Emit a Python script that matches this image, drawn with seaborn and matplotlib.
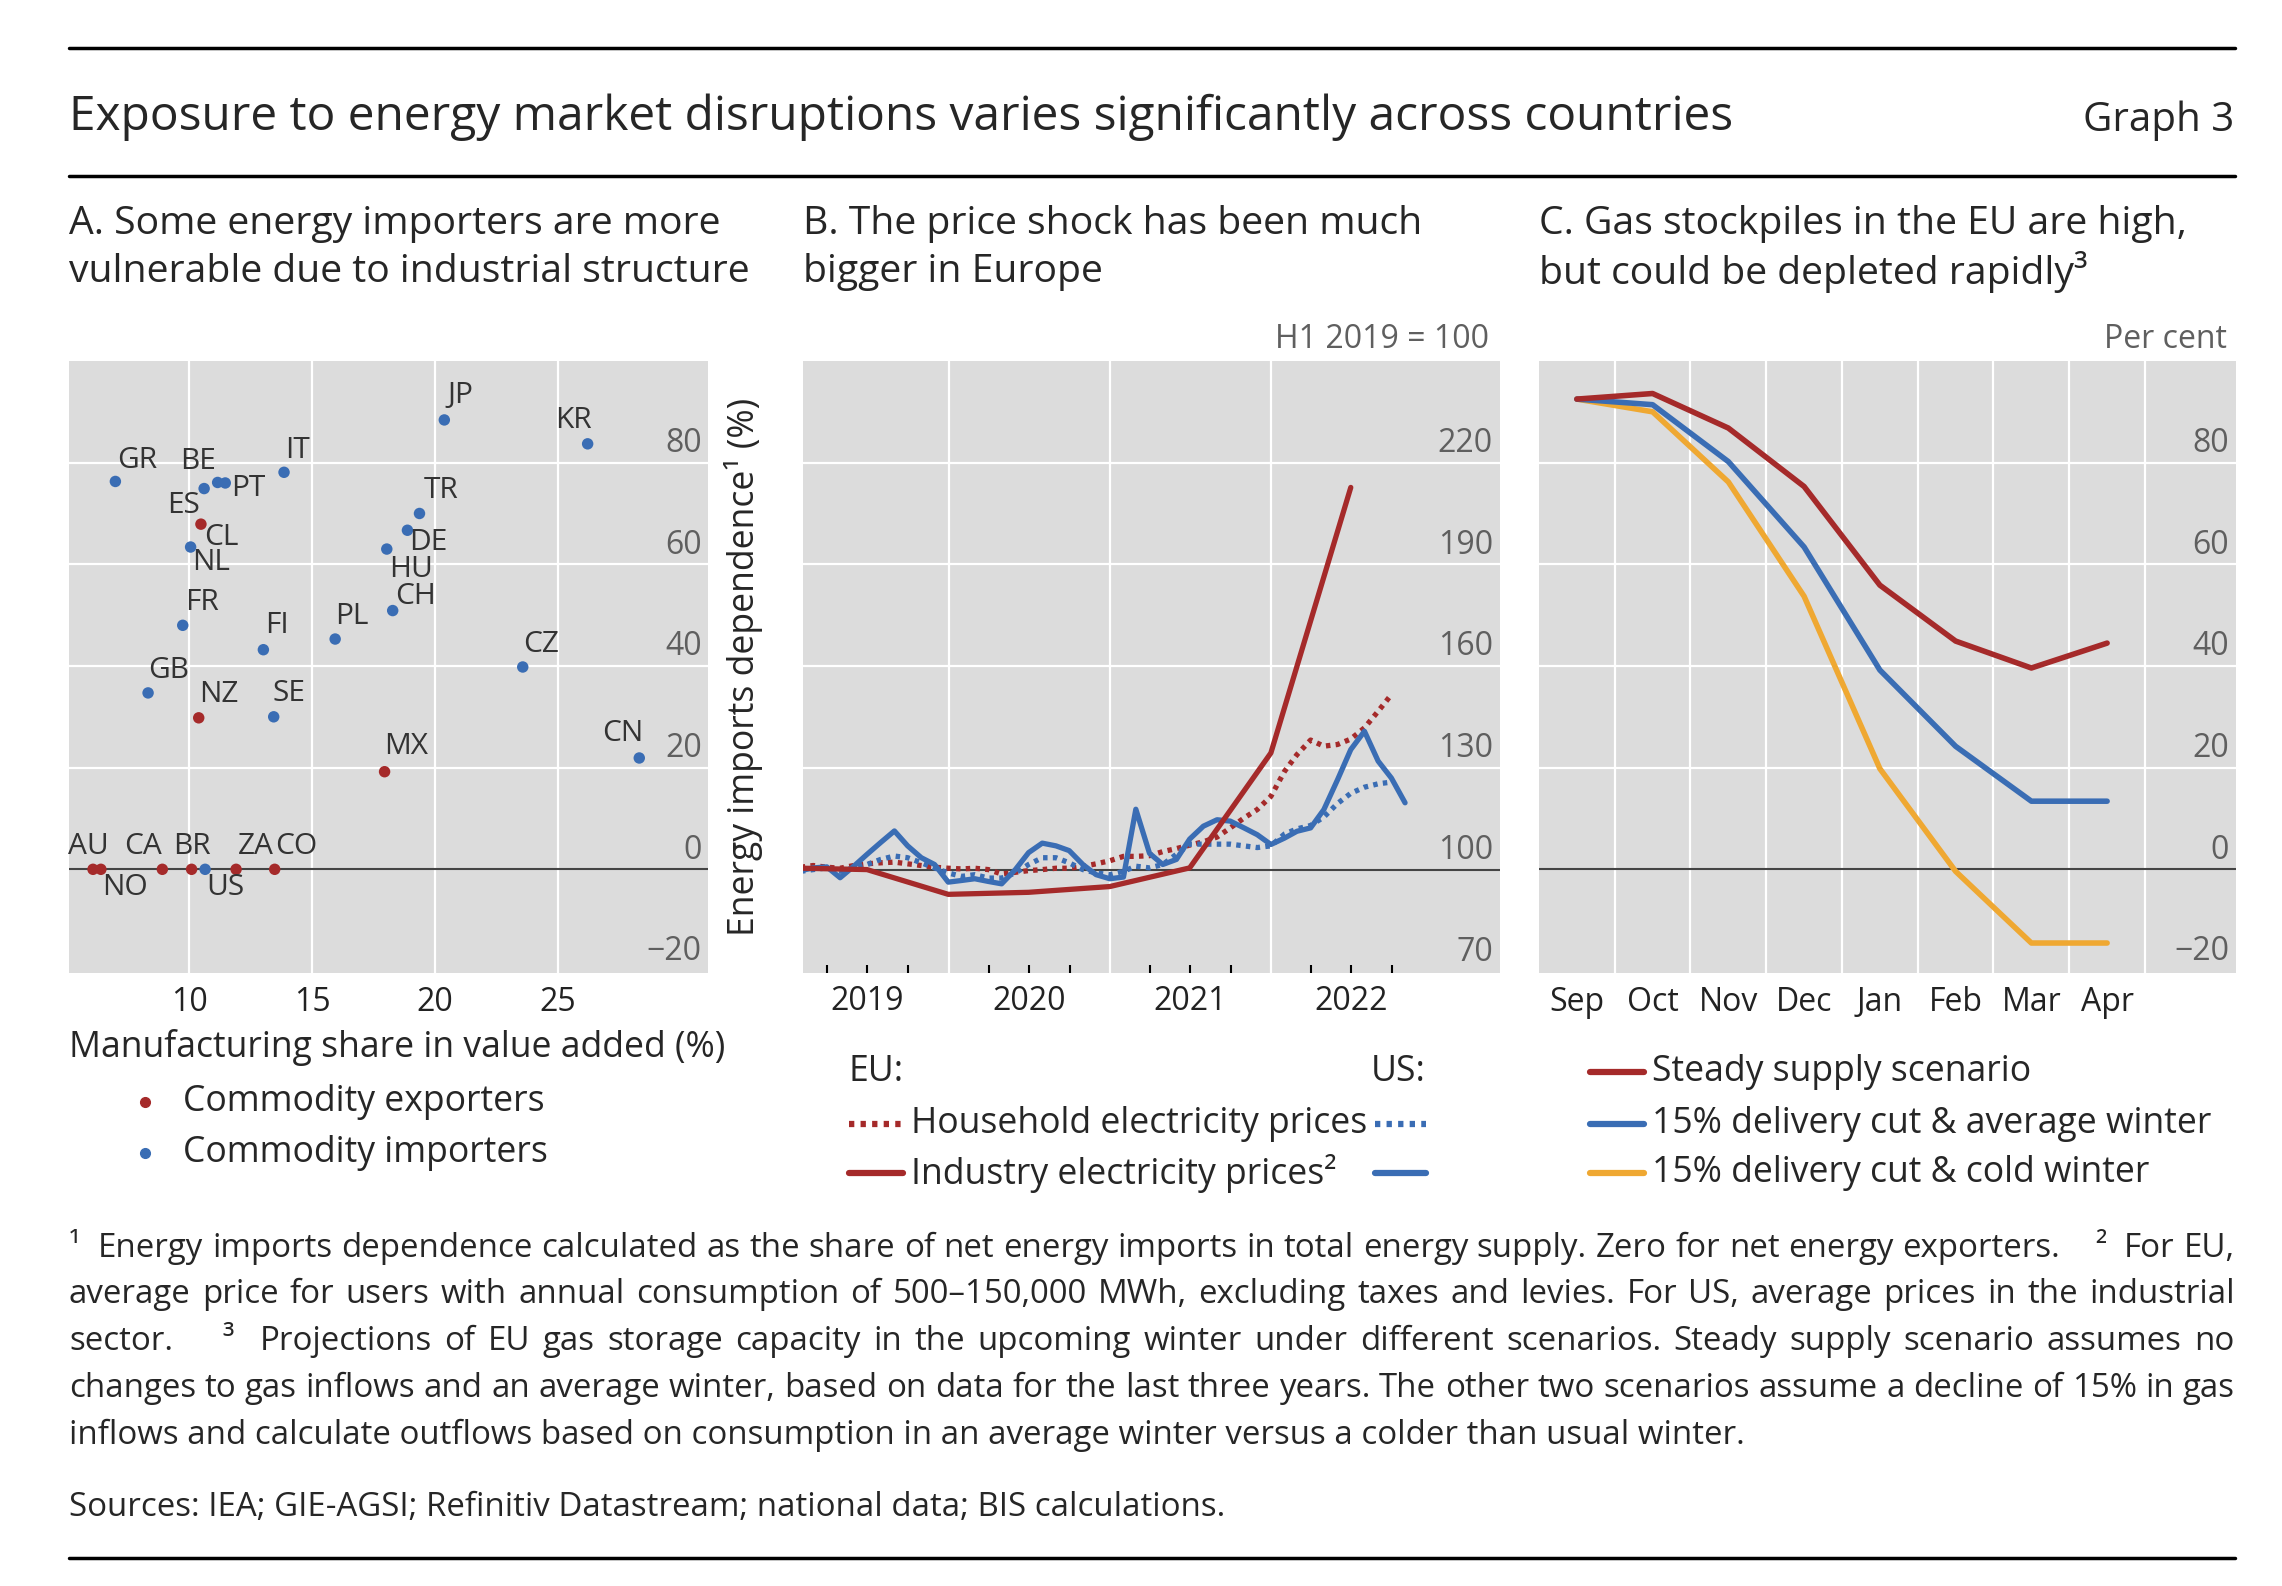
import matplotlib
matplotlib.use('Agg')
import matplotlib.pyplot as plt
from matplotlib.lines import Line2D
import numpy as np
import pandas as pd
import seaborn as sns

# ---- Panel A: manufacturing share vs energy import dependence
countries = ['GR', 'ES', 'BE', 'PT', 'IT', 'JP', 'KR', 'CL', 'NL', 'TR', 'DE', 'HU', 'CH', 'FR', 'PL',
             'FI', 'CZ', 'GB', 'NZ', 'SE', 'CN', 'MX', 'AU', 'NO', 'CA', 'BR', 'US', 'ZA', 'CO']
manuf_share = [6.99, 10.6, 11.15, 11.46, 13.85, 20.37, 26.2, 10.47, 10.05, 19.36, 18.87, 18.03, 18.27, 9.73, 15.93,
               13.01, 23.56, 8.32, 10.38, 13.43, 28.3, 17.94, 6.08, 6.4, 8.9, 10.09, 10.64, 11.9, 13.47]
import_dep = [76.3, 74.9, 76.1, 76.0, 78.1, 88.4, 83.7, 67.9, 63.4, 70.0, 66.7, 63.0, 50.9, 48.0, 45.3,
              43.2, 39.8, 34.7, 29.8, 30.0, 21.9, 19.2, 0, 0, 0, 0, 0, 0, 0]
exporters = ['CL', 'NZ', 'MX', 'AU', 'NO', 'CA', 'BR', 'ZA', 'CO']

# label offsets (points) and alignment
lab_pos = {
    'GR': (1, 5, 'left', 'bottom'), 'ES': (-3, -2, 'right', 'top'), 'BE': (-1, 5, 'right', 'bottom'),
    'PT': (4, -4, 'left', 'center'), 'IT': (1, 5, 'left', 'bottom'), 'JP': (2, 7, 'left', 'bottom'),
    'KR': (3, 6, 'right', 'bottom'), 'CL': (2, 1, 'left', 'top'), 'NL': (1, -1, 'left', 'top'),
    'TR': (3, 6, 'left', 'bottom'), 'DE': (1, 1.5, 'left', 'top'), 'HU': (2, -4, 'left', 'top'),
    'CH': (2, -0.5, 'left', 'bottom'), 'FR': (2, 6, 'left', 'bottom'), 'PL': (0, 6, 'left', 'bottom'),
    'FI': (1, 7, 'left', 'bottom'), 'CZ': (0, 6, 'left', 'bottom'), 'GB': (0, 6, 'left', 'bottom'),
    'NZ': (0, 6, 'left', 'bottom'), 'SE': (-1, 6, 'left', 'bottom'), 'CN': (3, 7, 'right', 'bottom'),
    'MX': (0, 8, 'left', 'bottom'), 'AU': (-3, 6, 'center', 'bottom'), 'NO': (1, -3, 'left', 'top'),
    'CA': (0, 6, 'right', 'bottom'), 'BR': (0, 6, 'center', 'bottom'), 'US': (1, -3, 'left', 'top'),
    'ZA': (1, 6, 'left', 'bottom'), 'CO': (0, 6, 'left', 'bottom'),
}

# ---- Panel B: electricity prices, H1 2019 = 100
us_industry = [99.7, 100.5, 100.8, 97.6, 101.0, 104.5, 108.0, 111.4, 107.0, 103.5, 101.5, 96.3,
               96.8, 97.3, 96.5, 95.8, 100.0, 105.0, 107.8, 107.0, 105.6, 101.5, 98.5, 97.3,
               97.8, 117.8, 104.8, 101.5, 103.0, 109.0, 112.8, 114.7, 114.3, 112.3, 110.3, 107.4,
               109.3, 111.3, 112.3, 117.7, 126.5, 135.4, 140.8, 132.0, 127.0, 119.7]
us_household = [99.5, 100.0, 100.5, 99.5, 100.5, 101.5, 103.0, 104.0, 103.5, 102.0, 100.5, 99.0,
                98.0, 98.5, 97.5, 97.5, 99.0, 101.5, 103.5, 103.5, 102.0, 100.0, 99.0, 98.5,
                99.5, 101.0, 100.5, 101.5, 104.5, 107.5, 107.5, 107.5, 107.5, 107.0, 106.5, 107.0,
                110.5, 112.0, 113.0, 115.5, 119.5, 122.5, 124.3, 125.3, 125.8]
eu_household = [100.7, 101.2, 100.7, 100.4, 101.2, 101.7, 102.0, 102.2, 101.7, 101.2, 100.7, 100.4,
                100.2, 100.4, 100.0, 98.7, 99.2, 99.7, 100.0, 100.4, 100.4, 100.9, 101.7, 102.6,
                103.9, 103.9, 104.1, 105.3, 106.2, 107.2, 108.2, 109.6, 112.3, 115.2, 117.7, 121.6,
                129.0, 133.9, 138.2, 136.4, 136.9, 138.5, 141.8, 146.7, 151.6]
eu_industry_dates = ['2018-12-31', '2019-06-30', '2019-12-31', '2020-06-30', '2020-12-31',
                     '2021-06-30', '2021-12-31', '2022-06-30']
eu_industry = [100.5, 100.0, 92.7, 93.3, 95.0, 100.5, 134.4, 212.7]

# ---- Panel C: EU gas storage scenarios
months = ['Sep', 'Oct', 'Nov', 'Dec', 'Jan', 'Feb', 'Mar', 'Apr']
steady = [92.5, 93.6, 86.8, 75.3, 55.9, 44.9, 39.6, 44.5]
cut_avg = [92.5, 91.4, 80.2, 63.4, 39.2, 24.2, 13.4, 13.4]
cut_cold = [92.5, 90.0, 76.2, 53.7, 19.8, -0.4, -14.5, -14.5]

RED = '#A52A2A'
BLUE = '#3A6DB4'
YELLOW = '#EFA832'
GREY = '#5F5F5F'
DARK = '#222222'

sns.set_theme(style='darkgrid', rc={
    'axes.facecolor': '#DCDCDC',
    'grid.color': 'white',
    'grid.linewidth': 1.6,
    'axes.edgecolor': '#DCDCDC',
})
plt.rcParams['font.family'] = ['Open Sans', 'DejaVu Sans']

TITLE = 34.5
PANEL = 28.2
GRAPH = 29
TICK = 23
LAB = 21.5
LEG = 25.6
NOTE = 23.8

fig = plt.figure(figsize=(22.82, 15.86), dpi=100)
axA = fig.add_axes([0.0302, 0.3865, 0.2801, 0.3859])
axB = fig.add_axes([0.3519, 0.3865, 0.3054, 0.3859])
axC = fig.add_axes([0.6744, 0.3865, 0.3054, 0.3859])


def style_axis(ax, grid_vals, label_vals):
    for s in ax.spines.values():
        s.set_visible(False)
    ax.set_yticks(grid_vals)
    ax.tick_params(axis='y', length=0, labelleft=False, labelright=False)
    ax.grid(True, which='major')
    ax.grid(False, which='minor')
    ax.set_xlabel('')
    ax.set_ylabel('')
    for v in label_vals:
        ax.annotate(f'{v}'.replace('-', '\u2212'), xy=(0.99, v), xycoords=ax.get_yaxis_transform(),
                    xytext=(0, 2), textcoords='offset points', ha='right', va='bottom',
                    fontsize=TICK, color=GREY)


# ---------------- Panel A
dfA = pd.DataFrame({'country': countries, 'manuf': manuf_share, 'imports': import_dep})
dfA['group'] = np.where(dfA['country'].isin(exporters), 'Commodity exporters', 'Commodity importers')
axA.axhline(0, color='#444444', lw=1.5, zorder=2)
sns.scatterplot(data=dfA, x='manuf', y='imports', hue='group',
                palette={'Commodity exporters': RED, 'Commodity importers': BLUE},
                s=68, linewidth=0, legend=False, ax=axA, zorder=3)
for _, r in dfA.iterrows():
    dx, dy, ha, va = lab_pos[r['country']]
    axA.annotate(r['country'], (r['manuf'], r['imports']), xytext=(dx, dy), textcoords='offset points',
                 ha=ha, va=va, fontsize=LAB, color='#333333')
axA.set_xlim(5.1, 31.1)
axA.set_ylim(-20.4, 100)
axA.set_xticks([10, 15, 20, 25])
style_axis(axA, [20, 40, 60, 80], [-20, 0, 20, 40, 60, 80])
axA.tick_params(axis='x', direction='in', length=12, width=1.5, color='black',
                labelsize=TICK, labelcolor=DARK, pad=9)

# ---------------- Panel B
mdates_idx = pd.date_range('2019-01-01', periods=len(us_industry), freq='MS') + pd.offsets.MonthEnd(0)
dfB_us_ind = pd.DataFrame({'date': mdates_idx, 'value': us_industry})
dfB_us_hh = pd.DataFrame({'date': mdates_idx[:len(us_household)], 'value': us_household})
dfB_eu_hh = pd.DataFrame({'date': mdates_idx[:len(eu_household)], 'value': eu_household})
dfB_eu_ind = pd.DataFrame({'date': pd.to_datetime(eu_industry_dates), 'value': eu_industry})

axB.axhline(100, color='#444444', lw=1.5, zorder=2)
dot = (0, (0.85, 1.0))
sns.lineplot(data=dfB_eu_hh, x='date', y='value', color=RED, lw=3.8, linestyle=dot, ax=axB, zorder=3)
sns.lineplot(data=dfB_us_hh, x='date', y='value', color=BLUE, lw=3.8, linestyle=dot, ax=axB, zorder=3)
sns.lineplot(data=dfB_us_ind, x='date', y='value', color=BLUE, lw=3.8, ax=axB, zorder=4)
sns.lineplot(data=dfB_eu_ind, x='date', y='value', color=RED, lw=3.8, ax=axB, zorder=5)
axB.lines[1].set_linestyle(dot)
axB.lines[2].set_linestyle(dot)
axB.set_xlim(pd.Timestamp('2019-02-05'), pd.Timestamp('2023-06-03'))
axB.set_ylim(69.5, 250)
year_starts = pd.to_datetime(['2020-01-01', '2021-01-01', '2022-01-01'])
quarters = [d for d in pd.date_range('2019-04-01', '2022-10-01', freq='QS') if d.month != 1]
axB.set_xticks(year_starts, labels=[''] * len(year_starts))
axB.set_xticks(quarters, labels=[''] * len(quarters), minor=True)
style_axis(axB, [130, 160, 190, 220], [70, 100, 130, 160, 190, 220])
axB.tick_params(axis='x', which='major', direction='in', length=12, width=1.5, color='black')
axB.tick_params(axis='x', which='minor', direction='in', length=6, width=1.5, color='black', bottom=True)
for yr in [2019, 2020, 2021, 2022]:
    axB.text(pd.Timestamp(f'{yr}-07-01'), -0.047, str(yr), transform=axB.get_xaxis_transform(),
             ha='center', va='center', fontsize=TICK, color=DARK)

# ---------------- Panel C
dfC = pd.DataFrame({'pos': np.arange(len(months)), 'steady': steady, 'avg': cut_avg, 'cold': cut_cold})
axC.axhline(0, color='#444444', lw=1.5, zorder=2)
sns.lineplot(data=dfC, x='pos', y='cold', color=YELLOW, lw=4, ax=axC, zorder=3)
sns.lineplot(data=dfC, x='pos', y='avg', color=BLUE, lw=4, ax=axC, zorder=4)
sns.lineplot(data=dfC, x='pos', y='steady', color=RED, lw=4, ax=axC, zorder=5)
axC.set_xlim(-0.5, 8.7)
axC.set_ylim(-20.4, 100)
axC.set_xticks(np.arange(len(months)) + 0.5, labels=[''] * len(months))
axC.set_xticks(np.arange(len(months)), labels=months, minor=True)
style_axis(axC, [20, 40, 60, 80], [-20, 0, 20, 40, 60, 80])
axC.tick_params(axis='x', which='major', direction='in', length=12, width=1.5, color='black')
axC.tick_params(axis='x', which='minor', length=0, labelsize=TICK, labelcolor=DARK, pad=9, bottom=True)

# ---------------- Header and rules
for y in [0.9697, 0.889, 0.0177]:
    fig.add_artist(Line2D([0.0302, 0.9792], [y, y], color='black', lw=2.5, transform=fig.transFigure))
fig.text(0.0302, 0.926, 'Exposure to energy market disruptions varies significantly across countries',
         fontsize=TITLE, va='center', ha='left')
fig.text(0.9792, 0.924, 'Graph 3', fontsize=GRAPH, va='center', ha='right')

panel_titles = [
    (0.0302, ['A. Some energy importers are more', 'vulnerable due to industrial structure']),
    (0.3519, ['B. The price shock has been much', 'bigger in Europe']),
    (0.6744, ['C. Gas stockpiles in the EU are high,', 'but could be depleted rapidly\u00b3']),
]
for x, lines in panel_titles:
    for y, line in zip([0.8588, 0.8285], lines):
        fig.text(x, y, line, fontsize=PANEL, va='center', ha='left')

fig.text(0.6526, 0.7862, 'H1 2019 = 100', fontsize=TICK, color=GREY, ha='right', va='center')
fig.text(0.9757, 0.7862, 'Per cent', fontsize=TICK, color=GREY, ha='right', va='center')

# axis titles of panel A
fig.text(0.0302, 0.3398, 'Manufacturing share in value added (%)', fontsize=LEG, ha='left', va='center')
fig.text(0.3256, 0.5795, 'Energy imports dependence\u00b9 (%)', fontsize=LEG, rotation=90,
         ha='center', va='center')

# ---------------- Legends
for y, lbl, col in [(0.3052, 'Commodity exporters', RED), (0.2730, 'Commodity importers', BLUE)]:
    fig.add_artist(Line2D([0.0635], [y], marker='o', ms=7, color=col, lw=0, transform=fig.transFigure))
    fig.text(0.0802, y, lbl, fontsize=LEG, ha='left', va='center')

fig.text(0.372, 0.3241, 'EU:', fontsize=LEG, ha='left', va='center')
fig.text(0.6249, 0.3241, 'US:', fontsize=LEG, ha='right', va='center')
for y, lbl, ls in [(0.2913, 'Household electricity prices', dot), (0.2604, 'Industry electricity prices\u00b2', '-')]:
    fig.add_artist(Line2D([0.372, 0.3957], [y, y], color=RED, lw=4.5, linestyle=ls, transform=fig.transFigure))
    fig.add_artist(Line2D([0.6025, 0.6249], [y, y], color=BLUE, lw=4.5, linestyle=ls, transform=fig.transFigure))
    fig.text(0.3992, y, lbl, fontsize=LEG, ha='left', va='center')

for y, lbl, col in [(0.3241, 'Steady supply scenario', RED),
                    (0.2913, '15% delivery cut & average winter', BLUE),
                    (0.2604, '15% delivery cut & cold winter', YELLOW)]:
    fig.add_artist(Line2D([0.6968, 0.7204], [y, y], color=col, lw=4.5, transform=fig.transFigure))
    fig.text(0.7239, y, lbl, fontsize=LEG, ha='left', va='center')

# ---------------- Footnotes (justified)
notes = [
    '\u00b9  Energy imports dependence calculated as the share of net energy imports in total energy supply. '
    'Zero for net energy exporters.    \u00b2  For EU,',
    'average price for users with annual consumption of 500\u2013150,000 MWh, excluding taxes and levies. '
    'For US, average prices in the industrial',
    'sector.    \u00b3  Projections of EU gas storage capacity in the upcoming winter under different scenarios. '
    'Steady supply scenario assumes no',
    'changes to gas inflows and an average winter, based on data for the last three years. '
    'The other two scenarios assume a decline of 15% in gas',
    'inflows and calculate outflows based on consumption in an average winter versus a colder than usual winter.',
]
note_y = [0.2131, 0.1835, 0.1539, 0.1248, 0.0952]


def tokens_of(line):
    out = []
    for part in line.split(' '):
        if part == '' and out:
            out[-1][1] += 1
        else:
            out.append([part, 1])
    return out


renderer = fig.canvas.get_renderer()
x0, x1 = 0.0302, 0.9792
W = fig.bbox.width
for i, (line, y) in enumerate(zip(notes, note_y)):
    if i == len(notes) - 1:
        fig.text(x0, y, line, fontsize=NOTE, ha='left', va='center')
        continue
    toks = tokens_of(line)
    texts = [fig.text(0, y, w, fontsize=NOTE, ha='left', va='center') for w, _ in toks]
    widths = [t.get_window_extent(renderer).width for t in texts]
    gap_w = sum(g for _, g in toks[:-1])
    unit = ((x1 - x0) * W - sum(widths)) / gap_w
    x = x0 * W
    for t, wd, (_, g) in zip(texts, widths, toks):
        t.set_x(x / W)
        x += wd + g * unit

fig.text(x0, 0.0492, 'Sources: IEA; GIE-AGSI; Refinitiv Datastream; national data; BIS calculations.',
         fontsize=NOTE, ha='left', va='center')

fig.savefig('out.png', dpi=100)
